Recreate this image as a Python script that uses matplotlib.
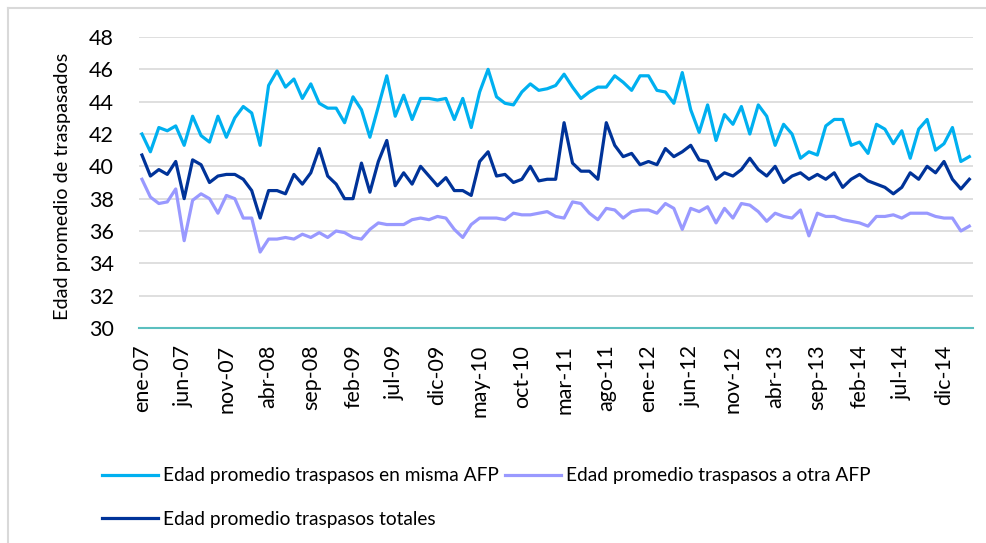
import numpy as np
import matplotlib.pyplot as plt
from matplotlib.lines import Line2D

# monthly series, ene-07 .. mar-15
meses = ['ene', 'feb', 'mar', 'abr', 'may', 'jun', 'jul', 'ago', 'sep', 'oct', 'nov', 'dic']
periodos = [f'{m}-{a:02d}' for a in range(7, 16) for m in meses][:99]

misma_afp = [42.0, 40.9, 42.4, 42.2, 42.5, 41.3, 43.1, 41.9, 41.5, 43.1,
             41.8, 43.0, 43.7, 43.3, 41.3, 45.0, 45.9, 44.9, 45.4, 44.2,
             45.1, 43.9, 43.6, 43.6, 42.7, 44.3, 43.5, 41.8, 43.7, 45.6,
             43.1, 44.4, 42.9, 44.2, 44.2, 44.1, 44.2, 42.9, 44.2, 42.4,
             44.6, 46.0, 44.3, 43.9, 43.8, 44.6, 45.1, 44.7, 44.8, 45.0,
             45.7, 44.9, 44.2, 44.6, 44.9, 44.9, 45.6, 45.2, 44.7, 45.6,
             45.6, 44.7, 44.6, 43.9, 45.8, 43.5, 42.1, 43.8, 41.6, 43.2,
             42.6, 43.7, 42.0, 43.8, 43.1, 41.3, 42.6, 42.0, 40.5, 40.9,
             40.7, 42.5, 42.9, 42.9, 41.3, 41.5, 40.8, 42.6, 42.3, 41.4,
             42.2, 40.5, 42.3, 42.9, 41.0, 41.4, 42.4, 40.3, 40.6]

otra_afp = [39.2, 38.1, 37.7, 37.8, 38.6, 35.4, 37.9, 38.3, 38.0, 37.1,
            38.2, 38.0, 36.8, 36.8, 34.7, 35.5, 35.5, 35.6, 35.5, 35.8,
            35.6, 35.9, 35.6, 36.0, 35.9, 35.6, 35.5, 36.1, 36.5, 36.4,
            36.4, 36.4, 36.7, 36.8, 36.7, 36.9, 36.8, 36.1, 35.6, 36.4,
            36.8, 36.8, 36.8, 36.7, 37.1, 37.0, 37.0, 37.1, 37.2, 36.9,
            36.8, 37.8, 37.7, 37.1, 36.7, 37.4, 37.3, 36.8, 37.2, 37.3,
            37.3, 37.1, 37.7, 37.4, 36.1, 37.4, 37.2, 37.5, 36.5, 37.4,
            36.8, 37.7, 37.6, 37.2, 36.6, 37.1, 36.9, 36.8, 37.3, 35.7,
            37.1, 36.9, 36.9, 36.7, 36.6, 36.5, 36.3, 36.9, 36.9, 37.0,
            36.8, 37.1, 37.1, 37.1, 36.9, 36.8, 36.8, 36.0, 36.3]

totales = [40.7, 39.4, 39.8, 39.5, 40.3, 38.0, 40.4, 40.1, 39.0, 39.4,
           39.5, 39.5, 39.2, 38.5, 36.8, 38.5, 38.5, 38.3, 39.5, 38.9,
           39.6, 41.1, 39.4, 38.9, 38.0, 38.0, 40.2, 38.4, 40.3, 41.6,
           38.8, 39.6, 38.9, 40.0, 39.4, 38.8, 39.3, 38.5, 38.5, 38.2,
           40.3, 40.9, 39.4, 39.5, 39.0, 39.2, 40.0, 39.1, 39.2, 39.2,
           42.7, 40.2, 39.7, 39.7, 39.2, 42.7, 41.3, 40.6, 40.8, 40.1,
           40.3, 40.1, 41.1, 40.6, 40.9, 41.3, 40.4, 40.3, 39.2, 39.6,
           39.4, 39.8, 40.5, 39.8, 39.4, 40.0, 39.0, 39.4, 39.6, 39.2,
           39.5, 39.2, 39.6, 38.7, 39.2, 39.5, 39.1, 38.9, 38.7, 38.3,
           38.7, 39.6, 39.2, 40.0, 39.6, 40.3, 39.2, 38.6, 39.2]

plt.rcParams['font.family'] = ['Lato', 'DejaVu Sans']

fig = plt.figure(figsize=(9.87, 5.43), dpi=100)
ax = fig.add_axes([139/987, 1 - 328/543, (972.7 - 139)/987, (328 - 37)/543])

x = np.arange(len(periodos))
l1, = ax.plot(x, misma_afp, color='#00B0F0', linewidth=2.3,
              label='Edad promedio traspasos en misma AFP')
l2, = ax.plot(x, otra_afp, color='#9999FF', linewidth=2.3,
              label='Edad promedio traspasos a otra AFP')
l3, = ax.plot(x, totales, color='#003399', linewidth=2.3,
              label='Edad promedio traspasos totales')

ax.set_ylim(30, 48)
ax.set_yticks(np.arange(30, 49, 2))
ax.set_xlim(-0.35, 98.4)
ax.set_xticks(x[::5])
ax.set_xticklabels(periodos[::5], rotation=90, fontsize=15.5)
ax.tick_params(axis='y', labelsize=15.5, length=0, pad=18)
ax.tick_params(axis='x', length=0, pad=12)
ax.grid(True, axis='y', color='#d9d9d9', linewidth=1.2)
ax.set_axisbelow(True)
for s in ['top', 'right', 'left']:
    ax.spines[s].set_visible(False)
ax.spines['bottom'].set_color('#5BBFBF')
ax.spines['bottom'].set_linewidth(1.5)
ax.set_ylabel('Edad promedio de traspasados', fontsize=14.3)
ax.yaxis.set_label_coords((71 - 139) / 833.7, 0.485)

# legend fills column-wise: misma + totales in column 1, otra in column 2
fig.legend([l1, l3, l2], [l1.get_label(), l3.get_label(), l2.get_label()],
           ncol=2, loc='upper left', bbox_to_anchor=(85/987, 1 - 450/543),
           frameon=False, fontsize=13.8, handlelength=2.9, handletextpad=0.25,
           columnspacing=0.35, labelspacing=1.4)

# chart border (only left and top visible)
fig.add_artist(Line2D([8/987, 8/987], [0, 1 - 8/543], color='#d9d9d9', linewidth=1.5))
fig.add_artist(Line2D([8/987, 1], [1 - 8/543, 1 - 8/543], color='#d9d9d9', linewidth=1.5))

fig.savefig('out.png', dpi=100)
